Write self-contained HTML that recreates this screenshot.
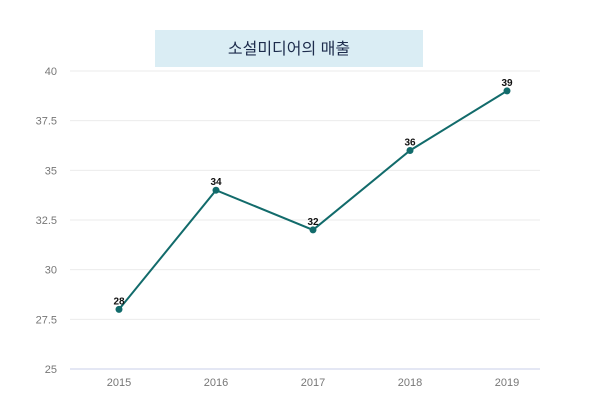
<!DOCTYPE html>
<html><head><meta charset="utf-8"><style>
body{margin:0;background:#fff;width:600px;height:406px;overflow:hidden;font-family:"Liberation Sans","Noto Sans CJK KR",sans-serif}
</style></head><body>
<svg width="600" height="406" xmlns="http://www.w3.org/2000/svg">
<rect x="155" y="30" width="268" height="37" fill="#daedf4"/>
<text x="289" y="54" text-anchor="middle" font-size="16" fill="#1d2c4c" font-family="Liberation Sans, Noto Sans CJK KR, sans-serif">소설미디어의 매출</text>
<g id="grid"></g><g id="xl"></g><g id="line"></g>
</svg>
<script>
const categories=["2015","2016","2017","2018","2019"];
const values=[28,34,32,36,39];
const yTicks=[25,27.5,30,32.5,35,37.5,40];
const yTickLabels=["25","27.5","30","32.5","35","37.5","40"];
const ns="http://www.w3.org/2000/svg";
function y(v){return 369-(v-25)*(298/15);}
function x(i){return 119+i*97;}
function mk(t,a,p){const e=document.createElementNS(ns,t);for(const k in a)e.setAttribute(k,a[k]);p.appendChild(e);return e;}
const g=document.getElementById('grid');
yTicks.forEach((t,i)=>{
 const l=mk('line',{x1:70,x2:540,y1:y(t),y2:y(t),stroke:i==0?'#dcdff0':'#ebebeb','stroke-width':i==0?1.5:1},g);
 
 
 const tx=mk('text',{x:57,y:y(t)+4,'text-anchor':'end','font-size':11,fill:'#777'},g);
 tx.textContent=yTickLabels[i];
 
 
});
const xl=document.getElementById('xl');
categories.forEach((c,i)=>{
 const tx=mk('text',{x:x(i),y:386,'text-anchor':'middle','font-size':11,fill:'#777'},xl);
 tx.textContent=c;
 
 
});
const lg=document.getElementById('line');
const pl=mk('polyline',{points:values.map((v,i)=>x(i)+','+y(v)).join(' '),fill:'none',stroke:'#126b6b','stroke-width':2},lg);


values.forEach((v,i)=>{
 const c=mk('circle',{cx:x(i),cy:y(v),r:3.5,fill:'#126b6b'},lg);
 
 
 const t=mk('text',{x:x(i),y:y(v)-5,'text-anchor':'middle','font-size':10,'font-weight':'bold',fill:'#111'},lg);
 t.textContent=v;
 
 
});
</script>
</body></html>
